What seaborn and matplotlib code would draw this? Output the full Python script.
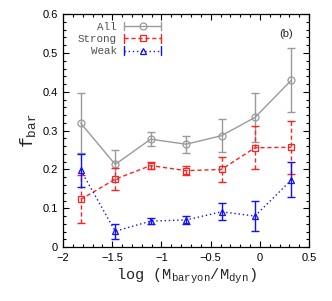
import matplotlib
matplotlib.use("Agg")
import matplotlib.pyplot as plt
import numpy as np
import pandas as pd
import seaborn as sns
from matplotlib.legend_handler import HandlerBase
from matplotlib.lines import Line2D
from matplotlib.ticker import MultipleLocator

# values
x_bins = [-1.82, -1.47, -1.11, -0.75, -0.39, -0.05, 0.32]
f_all = [0.319, 0.213, 0.278, 0.265, 0.287, 0.334, 0.430]
e_all = [0.077, 0.037, 0.018, 0.022, 0.042, 0.062, 0.082]
f_strong = [0.123, 0.175, 0.210, 0.197, 0.200, 0.256, 0.257]
e_strong = [0.062, 0.028, 0.010, 0.012, 0.033, 0.056, 0.068]
f_weak = [0.198, 0.041, 0.067, 0.070, 0.091, 0.080, 0.173]
e_weak = [0.042, 0.019, 0.007, 0.010, 0.022, 0.038, 0.045]
names = ["All", "Strong", "Weak"]

colors = {"All": "#9a9a9a", "Strong": "#ff2020", "Weak": "#1010ff"}
markers = {"All": "o", "Strong": "s", "Weak": "^"}
dashes = {"All": "-", "Strong": (0, (3, 2)), "Weak": (0, (1, 2))}
bar_styles = {"All": "-", "Strong": (0, (3, 2)), "Weak": "-"}

df = pd.DataFrame({
    "x": x_bins * 3,
    "f": f_all + f_strong + f_weak,
    "err": e_all + e_strong + e_weak,
    "sample": [n for n in names for _ in x_bins],
})

sns.set_style("ticks")
plt.rcParams["mathtext.fontset"] = "custom"
plt.rcParams["mathtext.rm"] = "Liberation Mono"
plt.rcParams["mathtext.tt"] = "Liberation Mono"
plt.rcParams["font.family"] = ["Liberation Sans", "DejaVu Sans"]

fig = plt.figure(figsize=(3.32, 3.01), dpi=100)
ax = fig.add_axes([0.19, 0.179, 0.741, 0.774])

for n in names:
    d = df[df["sample"] == n]
    eb = ax.errorbar(d["x"], d["f"], yerr=d["err"], fmt="none",
                     ecolor=colors[n], elinewidth=1.0, capsize=3, capthick=1.0)
    for lc in eb[2]:
        lc.set_linestyle(bar_styles[n])
    sns.lineplot(data=d, x="x", y="f", ax=ax, color=colors[n], linewidth=1.0,
                 linestyle=dashes[n], marker=markers[n], markersize=5,
                 markerfacecolor="none", markeredgecolor=colors[n],
                 markeredgewidth=0.9, legend=False)


class ErrHandle(HandlerBase):
    def __init__(self, color, marker, ls):
        super().__init__()
        self.c, self.m, self.ls = color, marker, ls

    def create_artists(self, legend, orig, xd, yd, w, h, fs, trans):
        y = h / 2 - yd
        x0, x1 = -xd, w - xd
        line = Line2D([x0, x1], [y, y], color=self.c, lw=1.0, linestyle=self.ls)
        c1 = Line2D([x0, x0], [y - 3, y + 3], color=self.c, lw=1.0)
        c2 = Line2D([x1, x1], [y - 3, y + 3], color=self.c, lw=1.0)
        mk = Line2D([(x0 + x1) / 2], [y], marker=self.m, markersize=5,
                    markerfacecolor="none", markeredgecolor=self.c,
                    markeredgewidth=0.9, linestyle="none")
        arts = [line, c1, c2, mk]
        for a in arts:
            a.set_transform(trans)
        return arts


proxies = [Line2D([], []) for _ in names]
hmap = {p: ErrHandle(colors[n], markers[n], dashes[n]) for p, n in zip(proxies, names)}
leg = ax.legend(proxies, names, handler_map=hmap, loc="upper right",
                bbox_to_anchor=(0.438, 1.008), frameon=False, markerfirst=False,
                handlelength=3.4, handletextpad=0.7, labelspacing=0.2,
                prop={"family": "Liberation Mono", "size": 7.8})
for t in leg.get_texts():
    t.set_color("#505050")

ax.text(0.905, 0.915, "(b)", transform=ax.transAxes, fontsize=8, ha="center", va="center")

ax.set_xlim(-2, 0.5)
ax.set_ylim(0, 0.6)
ax.xaxis.set_major_locator(MultipleLocator(0.5))
ax.xaxis.set_minor_locator(MultipleLocator(0.1))
ax.yaxis.set_major_locator(MultipleLocator(0.1))
ax.yaxis.set_minor_locator(MultipleLocator(0.02))
ax.set_xticks([-2, -1.5, -1, -0.5, 0, 0.5])
ax.set_xticklabels(["\u22122", "\u22121.5", "\u22121", "\u22120.5", "0", "0.5"])
ax.set_yticks([0, 0.1, 0.2, 0.3, 0.4, 0.5, 0.6])
ax.set_yticklabels(["0", "0.1", "0.2", "0.3", "0.4", "0.5", "0.6"])
ax.tick_params(which="both", direction="in", top=True, right=True,
               labelsize=8, width=0.8, colors="black")
ax.tick_params(which="major", length=4.5, pad=4)
ax.tick_params(which="minor", length=2.2)
for s in ax.spines.values():
    s.set_linewidth(0.9)
    s.set_color("black")

ax.set_xlabel(r"log (M$_{\mathrm{baryon}}$/M$_{\mathrm{dyn}}$)",
              family="Liberation Mono", fontsize=11, labelpad=3)
ax.set_ylabel(r"f$_{\mathrm{bar}}$", family="Liberation Mono", fontsize=13, labelpad=3)

fig.savefig("out.png", dpi=100)
